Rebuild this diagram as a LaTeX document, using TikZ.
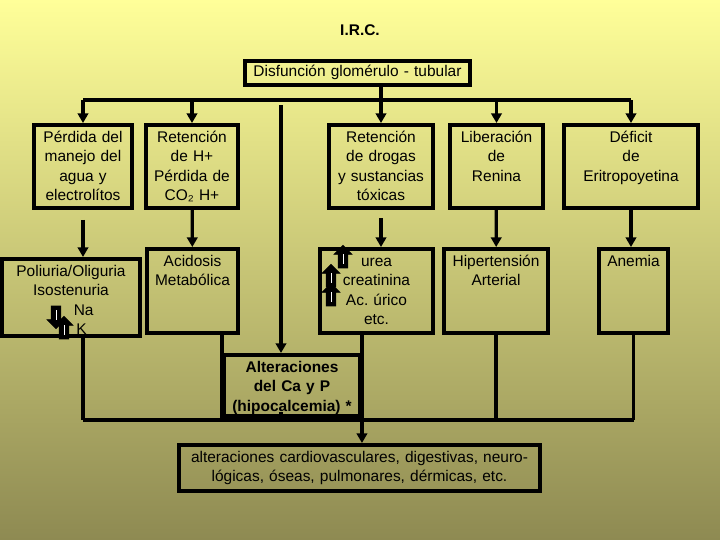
\documentclass[tikz,border=0pt]{standalone}
\usepackage{fontspec}
\setmainfont{Liberation Sans}
\usepackage{tikz}
\usetikzlibrary{arrows.meta,positioning,shapes.arrows}

\definecolor{bgtop}{HTML}{FFFF99}
\definecolor{bgmid}{HTML}{CCC983}
\definecolor{bgbot}{HTML}{8E8A52}

\begin{document}
\begin{tikzpicture}[x=0.25mm, y=-0.25mm,
      box/.style={rectangle, draw, line width=1mm, align=center,
                  inner xsep=2pt, inner ysep=4.5pt, text height=8pt,
                  font=\fontsize{11}{13.7}\selectfont},
      cause/.style={box, text depth=42pt},
      effect/.style={box, text depth=42.7pt},
      line/.style={line width=0.8mm},
      arr/.style={line, -{Triangle[length=2.4mm, width=2.6mm]}},
      blk/.style={single arrow, draw=black, fill=black, line width=0.6pt,
                  inner sep=1.05mm, minimum height=5.6mm,
                  single arrow head extend=1.05mm, shape border rotate=#1},
    ]

    % Background
    \shade[top color=bgtop, middle color=bgmid, bottom color=bgbot]
      (0,0) rectangle (720,540);

    % Title and top box
    \node[font=\bfseries\fontsize{11}{13}\selectfont] (irc) at (360,30) {I.R.C.};
    \node[box, text depth=2.5pt, inner ysep=3.5pt, text width=156pt] (dgt) at (357.5,73)
      {Disfunción glomérulo - tubular};

    % Row 1: causes
    \node[cause, text width=65.7pt] (pma) at (83,166.5)
      {Pérdida del\\manejo del\\agua y\\electrolítos};
    \node[cause, text width=61.4pt] (rhp) at (192,166.5)
      {Retención\\de H+\\Pérdida de\\CO₂ H+};
    \node[cause, text width=70pt] (rds) at (381,166.5)
      {Retención\\de drogas\\y sustancias\\tóxicas};
    \node[cause, text width=62pt] (lre) at (496.5,166.5)
      {Liberación\\de\\Renina};
    \node[cause, text width=91.3pt] (dep) at (631,166.5)
      {Déficit\\de\\Eritropoyetina};

    % Row 2: effects
    \node[box, text depth=37.8pt, text width=94pt] (pol) at (71,297.5)
      {Poliuria/Oliguria\\Isostenuria\\\hspace*{18pt}Na\\\hspace*{15pt}K};
    \node[effect, text width=60.7pt] (aci) at (192.5,291)
      {Acidosis\\Metabólica};
    \node[effect, text width=76.3pt] (ure) at (376.5,291)
      {urea\\creatinina\\Ac.\ úrico\\etc.};
    \node[effect, text width=70pt] (hip) at (496,291)
      {Hipertensión\\Arterial};
    \node[effect, text width=45pt] (ane) at (633.5,291)
      {Anemia};

    % Block arrows inside the boxes
    \node[blk=270] (nad) at (56,315) {};
    \node[blk=90]  (kup) at (64,330) {};
    \node[blk=90]  (up1) at (343,259) {};
    \node[blk=90]  (up2) at (331,278) {};
    \node[blk=90]  (up3) at (331,297) {};
    \foreach \a in {nad,kup,up1,up2,up3}
      \draw[white, line width=0.2mm] ([yshift=-1.2mm]\a.center) -- ([yshift=1.2mm]\a.center);

    % Row 3: calcium box and final box
    \node[box, text depth=26.4pt, text width=92.7pt,
          font=\bfseries\fontsize{11}{13.7}\selectfont] (cap) at (292,385.5)
      {Alteraciones\\del Ca y P\\(hipocalcemia) *};
    \node[box, text depth=15.7pt, text width=252.7pt] (sis) at (359.5,468)
      {alteraciones cardiovasculares, digestivas, neuro-\\lógicas, óseas, pulmonares, dérmicas, etc.};

    % Distribution bar
    \coordinate (bar) at (0,100);
    \coordinate (bus) at (0,420);
    \coordinate (lng) at (281,105);
    \draw[line] (pma.north |- bar) -- (dep.north |- bar);
    \draw[arr] (dgt.south -| rds.north) -- (rds.north);
    \foreach \n in {pma,rhp,lre,dep}
      \draw[arr] (\n.north |- bar) -- (\n.north);
    \draw[arr] (lng) -- (lng |- cap.north);

    % Arrows: causes to effects
    \draw[arr] ([yshift=-7pt]pma.south) -- (pma.south |- pol.north);
    \draw[arr] (rhp) -- (aci);
    \draw[arr] ([yshift=-6pt]rds.south) -- (rds.south |- ure.north);
    \draw[arr] (lre) -- (hip);
    \draw[arr] (dep) -- (dep.south |- ane.north);

    % Collecting bus
    \draw[line] (pma.south |- bus) -- (ane.south |- bus);
    \draw[line] (pol.south -| pma.south) -- (pma.south |- bus);
    \draw[line] (aci.south -| cap.west) -- (cap.west |- bus);
    \draw[line] (lng |- bus) -- ++(0,-8);
    \draw[line] (hip.south) -- (hip.south |- bus);
    \draw[line] (ane.south) -- (ane.south |- bus);
    \draw[arr] (ure.south -| cap.east) -- (cap.east |- sis.north);

    \end{tikzpicture}
\end{document}
